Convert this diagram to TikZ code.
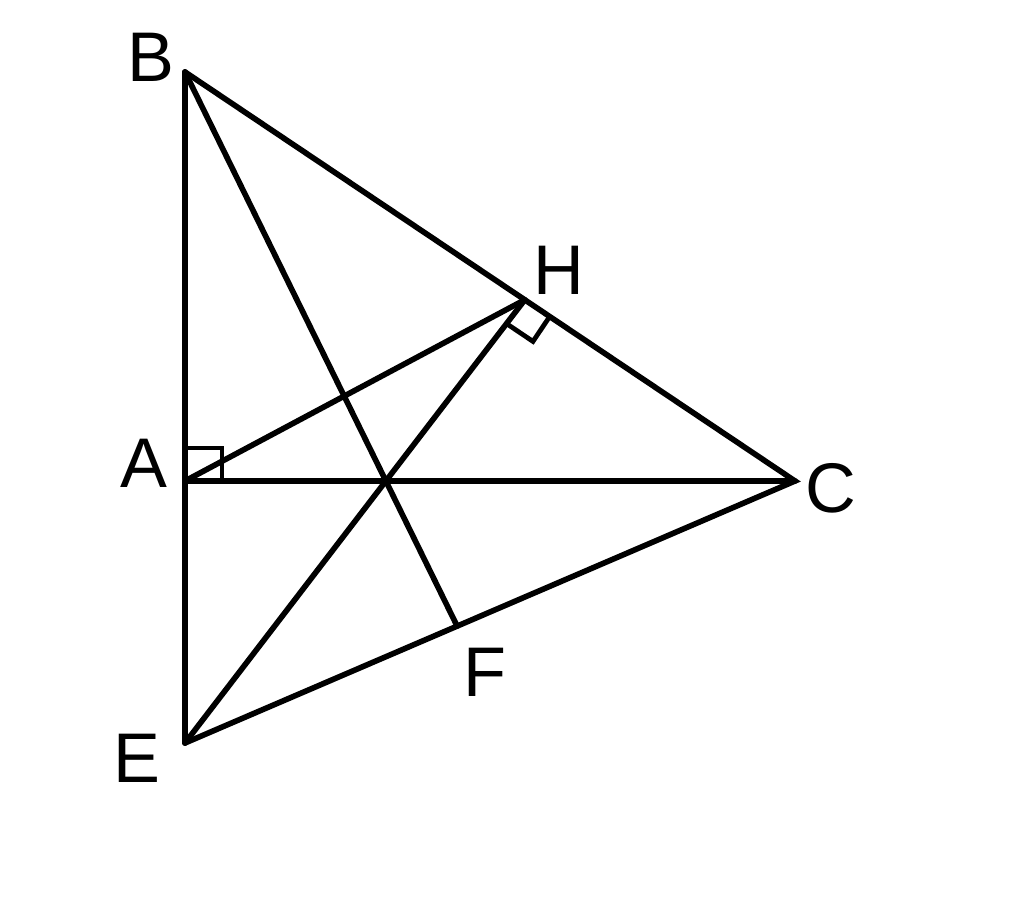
\documentclass[tikz,border=0pt]{standalone}
\usepackage{fontspec}
\setmainfont{Liberation Sans}
\usetikzlibrary{calc}

\begin{document}
\begin{tikzpicture}[
        x=0.02cm, y=-0.02cm,
        seg/.style={line width=3.2pt, line cap=round, line join=miter},
        rightmark/.style={line width=2.7pt},
        lab/.style={inner sep=0pt, font=\fontsize{40}{40}\selectfont}
    ]
        \useasboundingbox (0,0) rectangle (1024,902);

        \coordinate (B) at (185,72);
        \coordinate (A) at (185,481);
        \coordinate (E) at (185,743);
        \coordinate (C) at (795,481);
        \coordinate (H) at ($(B)!0.557!(C)$);
        \coordinate (G) at (intersection of E--H and A--C);
        \coordinate (F) at (intersection of B--G and E--C);

        % right angle marks
        \draw [rightmark] ($(A)!0.74cm!(C)$) -- ($(A)!0.74cm!(C)!0.66cm!90:(C)$) -- ($(A)!0.66cm!(B)$);
        \draw [rightmark] ($(H)!0.6cm!(C)$) -- ($(H)!0.6cm!(C)!0.6cm!-90:(C)$) -- ($(H)!0.6cm!(E)$);

        \draw [seg] (B) -- (E);
        \draw [seg] (B) -- (C) -- (E);
        \draw [seg] (A) -- (C);
        \draw [seg] (A) -- (H);
        \draw [seg] (E) -- (H);
        \draw [seg] (B) -- (F);

        \node [lab] (labB) at (151,57) {B};
        \node [lab] (labA) at (144,463) {A};
        \node [lab] (labE) at (137,758) {E};
        \node [lab] (labC) at (831,488) {C};
        \node [lab] (labH) at (559,270) {H};
        \node [lab] (labF) at (485,672) {F};
    \end{tikzpicture}
\end{document}
